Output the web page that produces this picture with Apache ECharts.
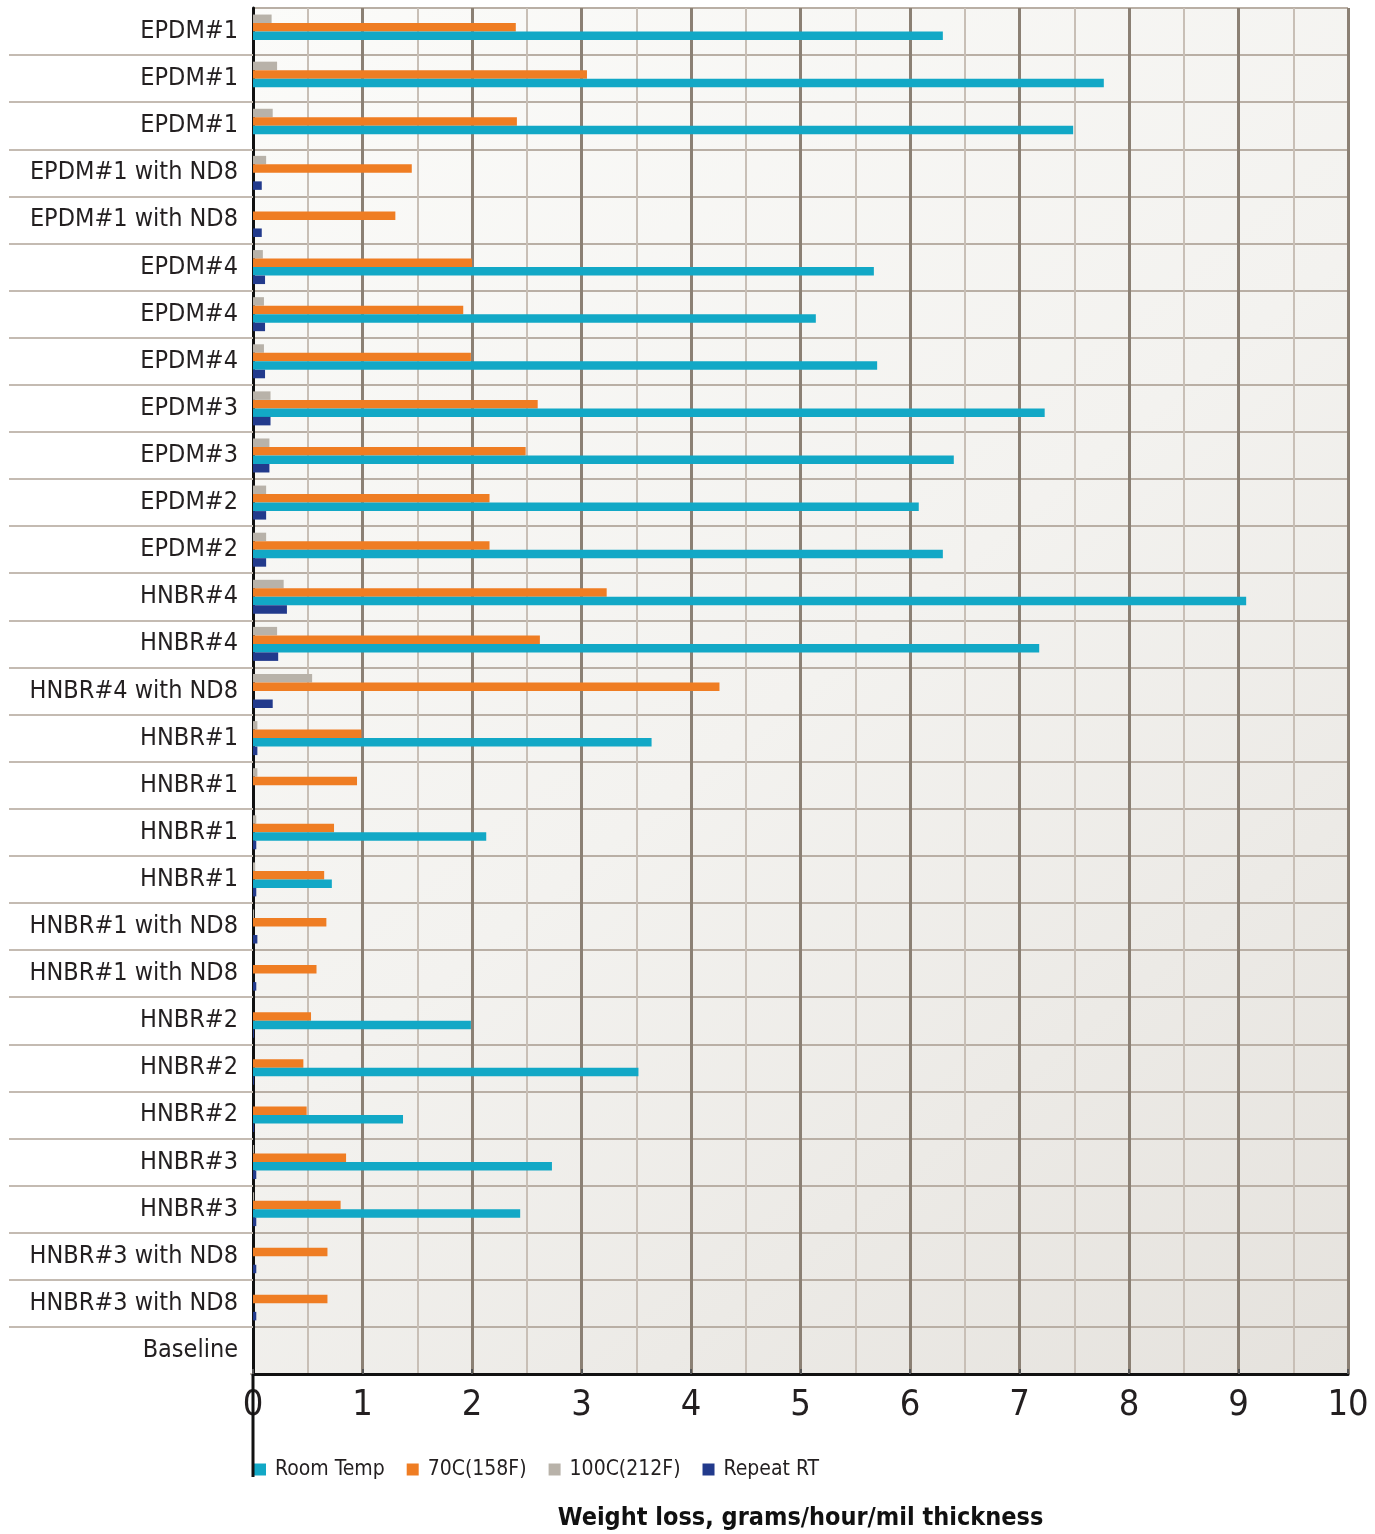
<!DOCTYPE html>
<html>
<head>
<meta charset="utf-8">
<script src="https://cdn.jsdelivr.net/npm/echarts@6/dist/echarts.min.js"></script>
<style>
  html, body { margin: 0; padding: 0; background: #ffffff; }
  #chart { width: 1375px; height: 1534px; }
</style>
</head>
<body>
<div id="chart"></div>
<script>
const categories = ['EPDM#1','EPDM#1','EPDM#1','EPDM#1 with ND8','EPDM#1 with ND8','EPDM#4','EPDM#4','EPDM#4','EPDM#3','EPDM#3','EPDM#2','EPDM#2','HNBR#4','HNBR#4','HNBR#4 with ND8','HNBR#1','HNBR#1','HNBR#1','HNBR#1','HNBR#1 with ND8','HNBR#1 with ND8','HNBR#2','HNBR#2','HNBR#2','HNBR#3','HNBR#3','HNBR#3 with ND8','HNBR#3 with ND8','Baseline'];
const roomTemp = [6.30, 7.77, 7.49, 0, 0, 5.67, 5.14, 5.70, 7.23, 6.40, 6.08, 6.30, 9.07, 7.18, 0, 3.64, 0, 2.13, 0.72, 0, 0, 1.99, 3.52, 1.37, 2.73, 2.44, 0, 0, 0];
const temp70 = [2.40, 3.05, 2.41, 1.45, 1.30, 2.00, 1.92, 1.99, 2.60, 2.49, 2.16, 2.16, 3.23, 2.62, 4.26, 0.99, 0.95, 0.74, 0.65, 0.67, 0.58, 0.53, 0.46, 0.49, 0.85, 0.80, 0.68, 0.68, 0];
const temp100 = [0.17, 0.22, 0.18, 0.12, 0, 0.09, 0.10, 0.10, 0.16, 0.15, 0.12, 0.12, 0.28, 0.22, 0.54, 0.04, 0.04, 0.03, 0.02, 0.01, 0, 0, 0, 0, 0.01, 0.01, 0, 0, 0];
const repeatRT = [0, 0, 0, 0.08, 0.08, 0.11, 0.11, 0.11, 0.16, 0.15, 0.12, 0.12, 0.31, 0.23, 0.18, 0.04, 0, 0.03, 0.03, 0.04, 0.03, 0.01, 0.01, 0.01, 0.03, 0.03, 0.03, 0.03, 0];
const seriesNames = ['Room Temp', '70C(158F)', '100C(212F)', 'Repeat RT'];
const xTicks = [0, 1, 2, 3, 4, 5, 6, 7, 8, 9, 10];
const axisTitle = 'Weight loss, grams/hour/mil thickness';

const FONT = '"Liberation Sans Narrow", "DejaVu Sans Condensed", sans-serif';
const colors = { rt: '#12a8c6', c70: '#ef7d23', c100: '#b8b2a9', rep: '#223a8c' };

const chart = echarts.init(document.getElementById('chart'), null, { renderer: 'canvas' });

function bar(name, data, color) {
  return {
    name: name,
    type: 'bar',
    data: data,
    barWidth: 8.5,
    barGap: '0%',
    itemStyle: { color: color },
    emphasis: { disabled: true }
  };
}

chart.setOption({
  animation: false,
  backgroundColor: '#ffffff',
  grid: {
    left: 253, right: 27, top: 8, bottom: 160,
    containLabel: false,
    outerBoundsMode: 'none',
    show: true,
    borderWidth: 0,
    backgroundColor: new echarts.graphic.LinearGradient(0, 0, 1, 1, [
      { offset: 0, color: '#fbfbf9' },
      { offset: 0.5, color: '#f3f2ef' },
      { offset: 1, color: '#e5e2dd' }
    ])
  },
  legend: {
    data: seriesNames,
    left: 249, top: 1454,
    icon: 'rect', itemWidth: 12, itemHeight: 12, itemGap: 22,
    itemStyle: { borderWidth: 0 },
    textStyle: { fontFamily: FONT, fontSize: 21, color: '#231f20', padding: [0, 0, 0, 4] },
    selectedMode: false
  },
  xAxis: {
    type: 'value',
    min: 0, max: 10, interval: 1,
    position: 'bottom',
    name: axisTitle,
    nameLocation: 'middle',
    nameGap: 132,
    nameTextStyle: { fontFamily: FONT, fontSize: 25, fontWeight: 'bold', color: '#111' },
    axisLine: { show: true, lineStyle: { color: '#111', width: 3 } },
    axisTick: { show: true, inside: true, length: 5, lineStyle: { color: '#555', width: 2 } },
    axisLabel: {
      fontFamily: FONT, fontSize: 36, color: '#231f20', margin: 14,
      formatter: function (v) { return xTicks.indexOf(v) >= 0 ? String(v) : ''; }
    },
    splitLine: { show: true, lineStyle: { color: '#8b8074', width: 3 } },
    minorTick: { show: true, splitNumber: 2, length: 0 },
    minorSplitLine: { show: true, lineStyle: { color: '#c8bfb6', width: 2 } }
  },
  yAxis: {
    type: 'category',
    data: categories,
    inverse: true,
    axisLine: { show: true, onZero: false, lineStyle: { color: '#111', width: 3 } },
    axisTick: {
      show: true, length: 244,
      interval: function (idx) { return idx !== 0; },
      lineStyle: { color: '#c4bbb2', width: 2 }
    },
    axisLabel: { fontFamily: FONT, fontSize: 25, color: '#231f20', margin: 15, interval: 0, padding: [11, 0, 0, 0] },
    splitLine: { show: true, lineStyle: { color: '#b9afa5', width: 2 } }
  },
  graphic: [
    {
      type: 'rect',
      shape: { x: 0, y: 1372, width: 250, height: 6 },
      style: { fill: '#ffffff' },
      z: 90
    },
    {
      type: 'line',
      shape: { x1: 253, y1: 1374, x2: 253, y2: 1477 },
      style: { stroke: '#111', lineWidth: 3 },
      z: 100
    }
  ],
  series: [
    bar('100C(212F)', temp100, colors.c100),
    bar('70C(158F)', temp70, colors.c70),
    bar('Room Temp', roomTemp, colors.rt),
    bar('Repeat RT', repeatRT, colors.rep)
  ]
});
</script>
</body>
</html>
